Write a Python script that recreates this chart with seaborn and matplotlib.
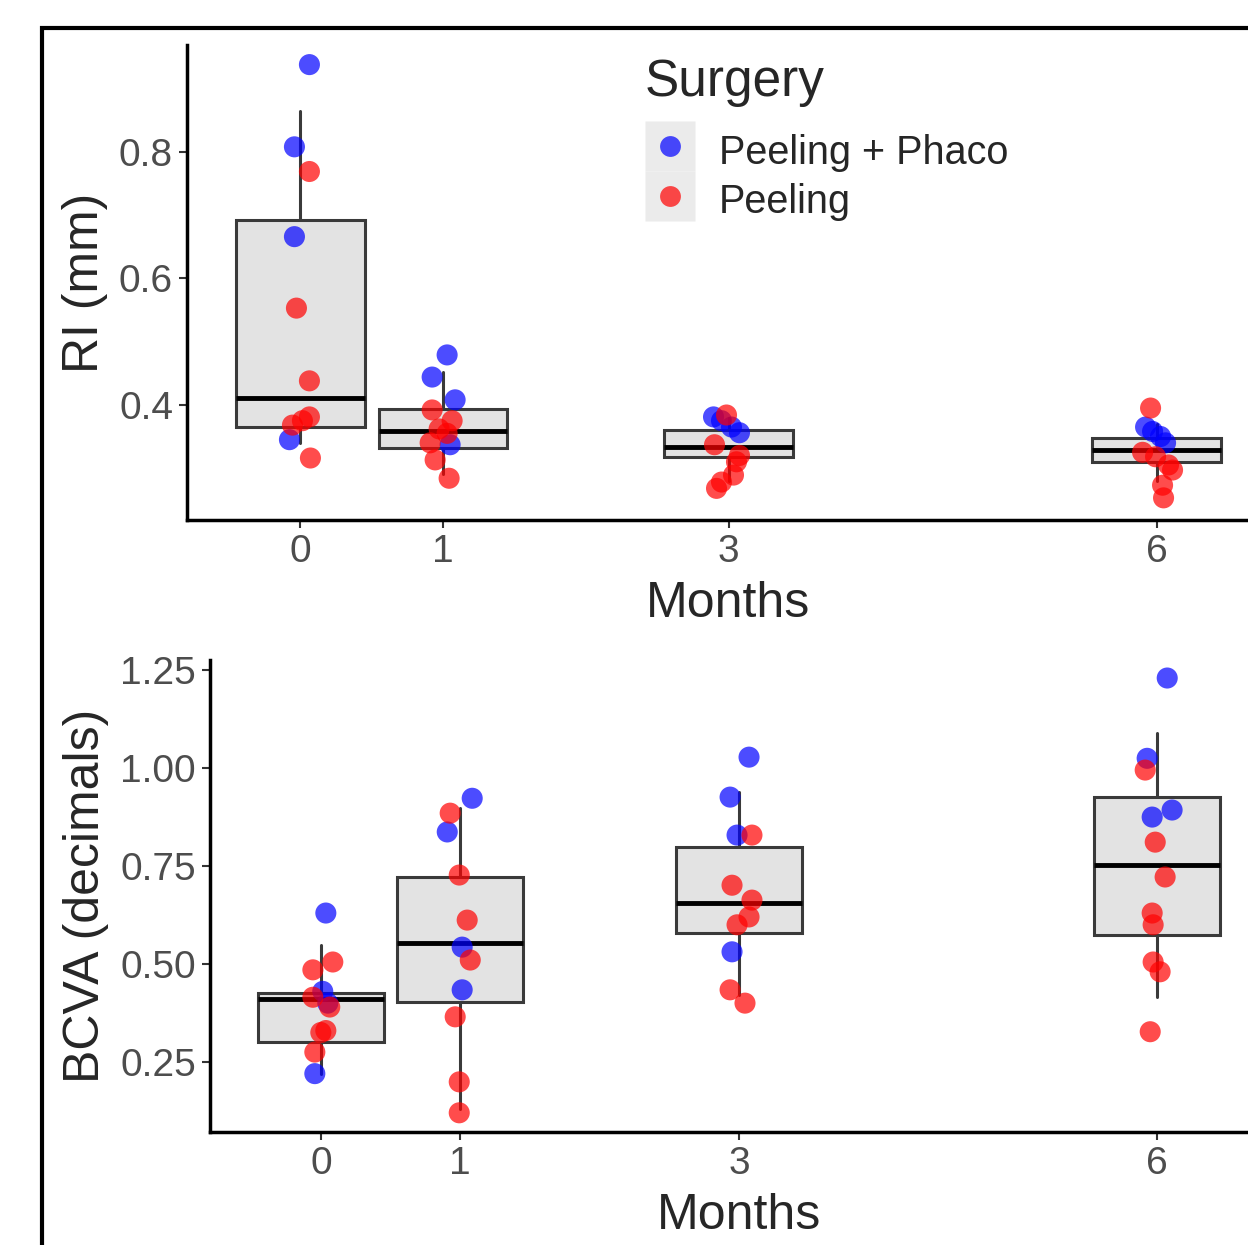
import seaborn as sns
import matplotlib.pyplot as plt
import pandas as pd
from matplotlib.lines import Line2D
from matplotlib.patches import Rectangle
from matplotlib.legend_handler import HandlerTuple

sns.set_style("white")
plt.rcParams['font.family'] = ['Liberation Sans', 'DejaVu Sans']

months = [0, 1, 3, 6]
month_labels = ["0", "1", "3", "6"]
groups = ["Peeling + Phaco", "Peeling"]
colors = {"Peeling + Phaco": "#0000FF", "Peeling": "#FF0000"}

# RI (mm) - jittered points
ri_phaco_x = [0.063, -0.042, -0.042, -0.077, 1.028, 0.923, 1.084, 1.049,
              2.895, 2.951, 3.021, 3.077, 5.923, 5.972, 6.028, 6.063]
ri_phaco_y = [0.938, 0.808, 0.666, 0.345, 0.479, 0.444, 0.408, 0.337,
              0.381, 0.375, 0.365, 0.356, 0.365, 0.358, 0.35, 0.34]
ri_peel_x = [0.063, -0.028, 0.063, 0.063, -0.056, 0.014, 0.07,
             0.923, 1.063, 0.972, 1.028, 0.909, 0.944, 1.042,
             2.986, 2.902, 3.077, 3.056, 3.035, 2.951, 2.916,
             5.958, 5.902, 5.993, 6.084, 6.112, 6.042, 6.049]
ri_peel_y = [0.769, 0.553, 0.438, 0.381, 0.368, 0.375, 0.316,
             0.392, 0.375, 0.362, 0.355, 0.34, 0.313, 0.284,
             0.384, 0.337, 0.32, 0.31, 0.289, 0.278, 0.268,
             0.395, 0.325, 0.318, 0.305, 0.297, 0.273, 0.253]
ri_q1 = [0.365, 0.332, 0.318, 0.31]
ri_med = [0.411, 0.358, 0.334, 0.329]
ri_q3 = [0.693, 0.393, 0.36, 0.348]
ri_lo = [0.34, 0.29, 0.28, 0.28]
ri_hi = [0.864, 0.452, 0.38, 0.37]

# BCVA (decimals)
bcva_phaco_x = [0.036, 0.014, 0.05, -0.043, 1.086, 0.907, 1.014, 1.014,
                3.072, 2.936, 2.986, 2.95, 6.072, 5.928, 6.107, 5.964]
bcva_phaco_y = [0.63, 0.43, 0.40, 0.22, 0.923, 0.837, 0.543, 0.434,
                1.028, 0.926, 0.829, 0.531, 1.23, 1.025, 0.893, 0.875]
bcva_peel_x = [0.086, -0.057, -0.057, 0.064, 0.036, 0.0, -0.043,
               0.928, 0.993, 1.05, 1.072, 0.964, 0.993, 0.993,
               3.093, 2.95, 3.093, 3.072, 2.986, 2.936, 3.043,
               5.914, 5.986, 6.057, 5.964, 5.971, 5.971, 6.021, 5.95]
bcva_peel_y = [0.505, 0.485, 0.415, 0.39, 0.33, 0.325, 0.275,
               0.885, 0.727, 0.612, 0.51, 0.365, 0.199, 0.12,
               0.829, 0.701, 0.663, 0.62, 0.6, 0.434, 0.4,
               0.995, 0.811, 0.722, 0.63, 0.6, 0.505, 0.48, 0.327]
bcva_q1 = [0.301, 0.403, 0.579, 0.574]
bcva_med = [0.41, 0.554, 0.656, 0.753]
bcva_q3 = [0.426, 0.722, 0.798, 0.926]
bcva_lo = [0.22, 0.13, 0.42, 0.416]
bcva_hi = [0.548, 0.898, 0.94, 1.089]


def draw_panel(ax, px, py, rx, ry, q1, med, q3, lo, hi, yticks, ylabels, ylabel):
    stats = [dict(q1=a, med=b, q3=c, whislo=d, whishi=e, fliers=[])
             for a, b, c, d, e in zip(q1, med, q3, lo, hi)]
    ax.bxp(stats, positions=months, widths=0.9, patch_artist=True,
           showcaps=False, showfliers=False, manage_ticks=False,
           boxprops=dict(facecolor="#e3e3e3", edgecolor="#3a3a3a", linewidth=2.2),
           whiskerprops=dict(color="#3a3a3a", linewidth=2.2),
           medianprops=dict(color="black", linewidth=3.5))
    df = pd.DataFrame({
        "Months": px + rx,
        "value": py + ry,
        "Surgery": [groups[0]] * len(px) + [groups[1]] * len(rx),
    })
    sns.scatterplot(data=df, x="Months", y="value", hue="Surgery",
                    hue_order=groups, palette=colors, s=230, alpha=0.7,
                    linewidth=0, legend=False, ax=ax, zorder=3)
    ax.set_xlim(-0.795, 6.795)
    ax.set_xticks(months)
    ax.set_xticklabels(month_labels)
    ax.set_yticks(yticks)
    ax.set_yticklabels(ylabels)
    ax.set_xlabel("Months", fontsize=36, labelpad=8)
    ax.set_ylabel(ylabel, fontsize=36, labelpad=8)
    for s in ["top", "right"]:
        ax.spines[s].set_visible(False)
    for s in ["left", "bottom"]:
        ax.spines[s].set_color("black")
        ax.spines[s].set_linewidth(2.5)
    ax.tick_params(length=6, width=1.5, color="#333333", labelsize=28,
                   labelcolor="#4d4d4d", pad=4, left=True, bottom=True)


fig = plt.figure(figsize=(12.48, 12.45), dpi=100)
ax1 = fig.add_axes([187 / 1248, 1 - 520 / 1245, 1083 / 1248, 475 / 1245])
ax2 = fig.add_axes([210 / 1248, 1 - 1132 / 1245, 1058 / 1248, 472 / 1245])

draw_panel(ax1, ri_phaco_x, ri_phaco_y, ri_peel_x, ri_peel_y,
           ri_q1, ri_med, ri_q3, ri_lo, ri_hi,
           [0.4, 0.6, 0.8], ["0.4", "0.6", "0.8"], "RI (mm)")
ax1.set_ylim(0.218, 0.969)

draw_panel(ax2, bcva_phaco_x, bcva_phaco_y, bcva_peel_x, bcva_peel_y,
           bcva_q1, bcva_med, bcva_q3, bcva_lo, bcva_hi,
           [0.25, 0.5, 0.75, 1.0, 1.25], ["0.25", "0.50", "0.75", "1.00", "1.25"],
           "BCVA (decimals)")
ax2.set_ylim(0.071, 1.276)

# legend with grey key backgrounds
handles = [(Line2D([], [], marker="s", ms=36, mfc="#ebebeb", mec="none", ls=""),
            Line2D([], [], marker="o", ms=15, mfc=colors[g], mec="none", alpha=0.7, ls=""))
           for g in groups]
leg = fig.legend(handles, groups, loc="upper left",
                 bbox_to_anchor=(645 / 1248, 1 - 58 / 1245), frameon=False,
                 title="Surgery", title_fontproperties={"size": 37}, fontsize=28.5,
                 alignment="left", handlelength=1.26, handleheight=1.26,
                 labelspacing=0.18, handletextpad=0.6, borderpad=0, borderaxespad=0,
                 handler_map={tuple: HandlerTuple(ndivide=1)})
leg._legend_box.sep = 16

# outer frame, cropped on the right and bottom
fig.patches.append(Rectangle((42 / 1248, -0.5), 2, 1.5 - 28 / 1245,
                             transform=fig.transFigure, fill=False,
                             lw=3, ec="black"))

fig.savefig("out.png", dpi=100)
